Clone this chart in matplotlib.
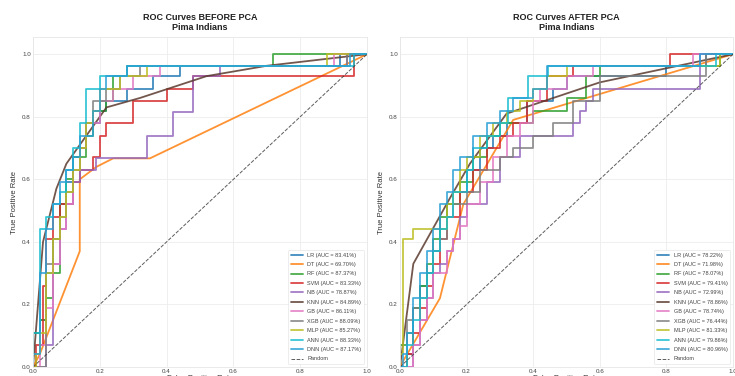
import matplotlib
matplotlib.use("Agg")
import matplotlib.pyplot as plt
import seaborn as sns

sns.set_style("whitegrid")
plt.rcParams['font.family'] = ['Liberation Sans', 'DejaVu Sans']

models = ["LR", "DT", "RF", "SVM", "NB", "KNN", "GB", "XGB", "MLP", "ANN", "DNN"]
colors = ["#1f77b4", "#ff7f0e", "#2ca02c", "#d62728", "#9467bd", "#5a3a2e",
          "#e377c2", "#7f7f7f", "#bcbd22", "#17becf", "#2a9fd6"]
line_models = ["DT", "KNN"]

auc_before = [83.41, 69.70, 87.37, 83.33, 78.87, 84.89, 86.11, 88.09, 85.27, 88.33, 87.17]
auc_after = [78.22, 71.98, 78.07, 79.41, 72.99, 78.86, 78.74, 76.44, 81.33, 79.86, 80.96]

# ---- BEFORE PCA ----
fpr_before = {
    "LR":  [0, 0, 0.02, 0.04, 0.06, 0.08, 0.10, 0.12, 0.14, 0.16, 0.20, 0.22, 0.28, 0.36, 0.44, 0.92, 1.0],
    "DT":  [0, 0.02, 0.06, 0.10, 0.14, 0.14, 0.19, 0.24, 0.35, 1.0],
    "RF":  [0, 0, 0.02, 0.04, 0.06, 0.08, 0.08, 0.10, 0.12, 0.16, 0.18, 0.22, 0.24, 0.28, 0.72, 1.0],
    "SVM": [0, 0.01, 0.03, 0.04, 0.06, 0.08, 0.12, 0.14, 0.18, 0.20, 0.22, 0.30, 0.40, 0.48, 0.96, 1.0],
    "NB":  [0, 0.04, 0.06, 0.08, 0.10, 0.12, 0.14, 0.19, 0.34, 0.42, 0.48, 0.56, 0.94, 1.0],
    "KNN": [0, 0.03, 0.07, 0.10, 0.22, 0.32, 0.52, 0.70, 1.0],
    "GB":  [0, 0.02, 0.04, 0.06, 0.08, 0.10, 0.12, 0.14, 0.16, 0.20, 0.24, 0.30, 0.38, 0.90, 1.0],
    "XGB": [0, 0.04, 0.04, 0.06, 0.08, 0.10, 0.12, 0.14, 0.16, 0.18, 0.22, 0.26, 0.32, 0.94, 1.0],
    "MLP": [0, 0.01, 0.02, 0.04, 0.06, 0.08, 0.10, 0.12, 0.14, 0.16, 0.18, 0.20, 0.26, 0.34, 0.88, 1.0],
    "ANN": [0, 0, 0.02, 0.04, 0.06, 0.08, 0.10, 0.12, 0.14, 0.16, 0.20, 0.28, 0.96, 1.0],
    "DNN": [0, 0, 0.02, 0.04, 0.06, 0.08, 0.10, 0.12, 0.14, 0.18, 0.20, 0.22, 0.28, 0.95, 1.0],
}
tpr_before = {
    "LR":  [0, 0.11, 0.15, 0.30, 0.41, 0.52, 0.59, 0.67, 0.70, 0.78, 0.82, 0.85, 0.89, 0.93, 0.963, 1.0, 1.0],
    "DT":  [0, 0.04, 0.15, 0.26, 0.37, 0.60, 0.64, 0.667, 0.667, 1.0],
    "RF":  [0, 0.11, 0.15, 0.22, 0.30, 0.33, 0.52, 0.60, 0.67, 0.74, 0.82, 0.85, 0.93, 0.963, 1.0, 1.0],
    "SVM": [0, 0.07, 0.26, 0.41, 0.48, 0.52, 0.59, 0.63, 0.67, 0.74, 0.78, 0.85, 0.89, 0.93, 1.0, 1.0],
    "NB":  [0, 0.07, 0.33, 0.44, 0.52, 0.59, 0.63, 0.667, 0.74, 0.815, 0.93, 0.963, 1.0, 1.0],
    "KNN": [0, 0.40, 0.57, 0.65, 0.83, 0.86, 0.93, 0.963, 1.0],
    "GB":  [0, 0.07, 0.19, 0.33, 0.44, 0.52, 0.63, 0.70, 0.78, 0.85, 0.89, 0.93, 0.963, 1.0, 1.0],
    "XGB": [0, 0.07, 0.33, 0.41, 0.48, 0.56, 0.63, 0.70, 0.78, 0.85, 0.89, 0.93, 0.963, 1.0, 1.0],
    "MLP": [0, 0.04, 0.11, 0.30, 0.41, 0.48, 0.56, 0.63, 0.70, 0.78, 0.82, 0.89, 0.93, 0.963, 1.0, 1.0],
    "ANN": [0, 0.11, 0.44, 0.48, 0.52, 0.56, 0.63, 0.70, 0.78, 0.89, 0.93, 0.963, 1.0, 1.0],
    "DNN": [0, 0.04, 0.30, 0.44, 0.52, 0.59, 0.63, 0.67, 0.74, 0.82, 0.89, 0.93, 0.963, 1.0, 1.0],
}

# ---- AFTER PCA ----
fpr_after = {
    "LR":  [0, 0.02, 0.04, 0.06, 0.08, 0.10, 0.12, 0.14, 0.16, 0.20, 0.24, 0.28, 0.32, 0.38, 0.46, 0.50, 0.80, 0.92, 1.0],
    "DT":  [0, 0.01, 0.12, 0.19, 0.34, 1.0],
    "RF":  [0, 0, 0.02, 0.04, 0.06, 0.08, 0.10, 0.12, 0.14, 0.18, 0.22, 0.26, 0.30, 0.40, 0.50, 0.56, 0.60, 0.96, 1.0],
    "SVM": [0, 0.02, 0.04, 0.06, 0.08, 0.10, 0.12, 0.14, 0.18, 0.22, 0.26, 0.30, 0.34, 0.38, 0.44, 0.52, 0.81, 1.0],
    "NB":  [0, 0.04, 0.06, 0.08, 0.10, 0.12, 0.14, 0.16, 0.18, 0.20, 0.26, 0.30, 0.36, 0.52, 0.54, 0.56, 0.58, 0.90, 1.0],
    "KNN": [0, 0.04, 0.15, 0.21, 0.32, 0.60, 1.0],
    "GB":  [0, 0.04, 0.06, 0.08, 0.10, 0.14, 0.16, 0.18, 0.20, 0.24, 0.28, 0.32, 0.36, 0.40, 0.42, 0.50, 0.58, 0.88, 1.0],
    "XGB": [0, 0.02, 0.04, 0.06, 0.08, 0.10, 0.12, 0.14, 0.16, 0.20, 0.24, 0.30, 0.34, 0.40, 0.46, 0.52, 0.60, 0.92, 1.0],
    "MLP": [0, 0, 0.01, 0.04, 0.14, 0.16, 0.18, 0.20, 0.24, 0.28, 0.32, 0.36, 0.40, 0.44, 0.50, 0.96, 1.0],
    "ANN": [0, 0.02, 0.04, 0.06, 0.08, 0.10, 0.12, 0.14, 0.16, 0.20, 0.22, 0.26, 0.30, 0.325, 0.385, 0.445, 0.95, 1.0],
    "DNN": [0, 0.01, 0.02, 0.04, 0.06, 0.08, 0.10, 0.12, 0.14, 0.16, 0.18, 0.22, 0.26, 0.30, 0.34, 0.40, 0.44, 0.90, 1.0],
}
tpr_after = {
    "LR":  [0, 0.04, 0.19, 0.26, 0.30, 0.37, 0.44, 0.52, 0.56, 0.63, 0.70, 0.74, 0.78, 0.85, 0.89, 0.93, 0.963, 1.0, 1.0],
    "DT":  [0, 0.02, 0.22, 0.52, 0.79, 1.0],
    "RF":  [0, 0.07, 0.11, 0.19, 0.26, 0.33, 0.41, 0.48, 0.52, 0.59, 0.67, 0.74, 0.78, 0.82, 0.86, 0.93, 0.963, 1.0, 1.0],
    "SVM": [0, 0.04, 0.11, 0.19, 0.26, 0.33, 0.41, 0.48, 0.56, 0.63, 0.70, 0.74, 0.78, 0.85, 0.93, 0.963, 1.0, 1.0],
    "NB":  [0, 0.07, 0.15, 0.22, 0.30, 0.33, 0.37, 0.41, 0.48, 0.52, 0.59, 0.67, 0.74, 0.78, 0.82, 0.85, 0.89, 1.0, 1.0],
    "KNN": [0, 0.33, 0.54, 0.65, 0.81, 0.91, 1.0],
    "GB":  [0, 0.07, 0.15, 0.22, 0.30, 0.37, 0.41, 0.45, 0.52, 0.59, 0.67, 0.74, 0.78, 0.85, 0.89, 0.93, 0.963, 1.0, 1.0],
    "XGB": [0, 0.15, 0.19, 0.22, 0.30, 0.37, 0.41, 0.48, 0.52, 0.56, 0.63, 0.67, 0.70, 0.74, 0.78, 0.85, 0.93, 1.0, 1.0],
    "MLP": [0, 0.04, 0.41, 0.44, 0.52, 0.56, 0.63, 0.67, 0.74, 0.78, 0.82, 0.85, 0.89, 0.93, 0.963, 1.0, 1.0],
    "ANN": [0, 0.07, 0.15, 0.22, 0.30, 0.37, 0.44, 0.48, 0.56, 0.63, 0.70, 0.74, 0.78, 0.86, 0.93, 0.963, 1.0, 1.0],
    "DNN": [0, 0.04, 0.11, 0.22, 0.30, 0.37, 0.44, 0.52, 0.56, 0.63, 0.67, 0.74, 0.78, 0.82, 0.86, 0.89, 0.963, 1.0, 1.0],
}

W, H = 735, 376
fig = plt.figure(figsize=(W / 100, H / 100), dpi=100)
ax1 = fig.add_axes([33 / W, 1 - 367 / H, 334 / W, 330 / H])
ax2 = fig.add_axes([400 / W, 1 - 367 / H, 333 / W, 330 / H])

panels = [
    (ax1, fpr_before, tpr_before, auc_before, "ROC Curves BEFORE PCA\nPima Indians"),
    (ax2, fpr_after, tpr_after, auc_after, "ROC Curves AFTER PCA\nPima Indians"),
]

for ax, fprs, tprs, aucs, title in panels:
    for m, c, a in zip(models, colors, aucs):
        ds = "default" if m in line_models else "steps-post"
        ax.plot(fprs[m], tprs[m], color=c, lw=1.3, alpha=0.85, drawstyle=ds,
                label=f"{m} (AUC = {a:.2f}%)")
    ax.plot([0, 1], [0, 1], color="#333333", ls="--", lw=0.7, alpha=0.8, label="Random")
    ax.set_xlim(0, 1)
    ax.set_ylim(0, 1.055)
    ax.set_xticks([0, 0.2, 0.4, 0.6, 0.8, 1.0])
    ax.set_yticks([0, 0.2, 0.4, 0.6, 0.8, 1.0])
    ax.tick_params(labelsize=4.5, colors="#444444", pad=1.5, length=0)
    ax.set_xlabel("False Positive Rate", fontsize=5.5, color="#333333", labelpad=1)
    ax.set_ylabel("True Positive Rate", fontsize=5.5, color="#333333", labelpad=3)
    ax.set_title(title, fontsize=6.5, fontweight="bold", color="#222222", pad=5, linespacing=1.15)
    ax.grid(True, color="#ececec", lw=0.6)
    for s in ax.spines.values():
        s.set_color("#e6e6e6")
        s.set_linewidth(0.6)
    leg = ax.legend(loc="lower right", fontsize=4.0, frameon=True, framealpha=0.9,
                    handlelength=2.2, labelspacing=0.8, borderpad=0.5)
    leg.get_frame().set_linewidth(0.4)
    leg.get_frame().set_edgecolor("#dddddd")
    for t in leg.get_texts():
        t.set_color("#444444")

fig.savefig("out.png", dpi=100)
